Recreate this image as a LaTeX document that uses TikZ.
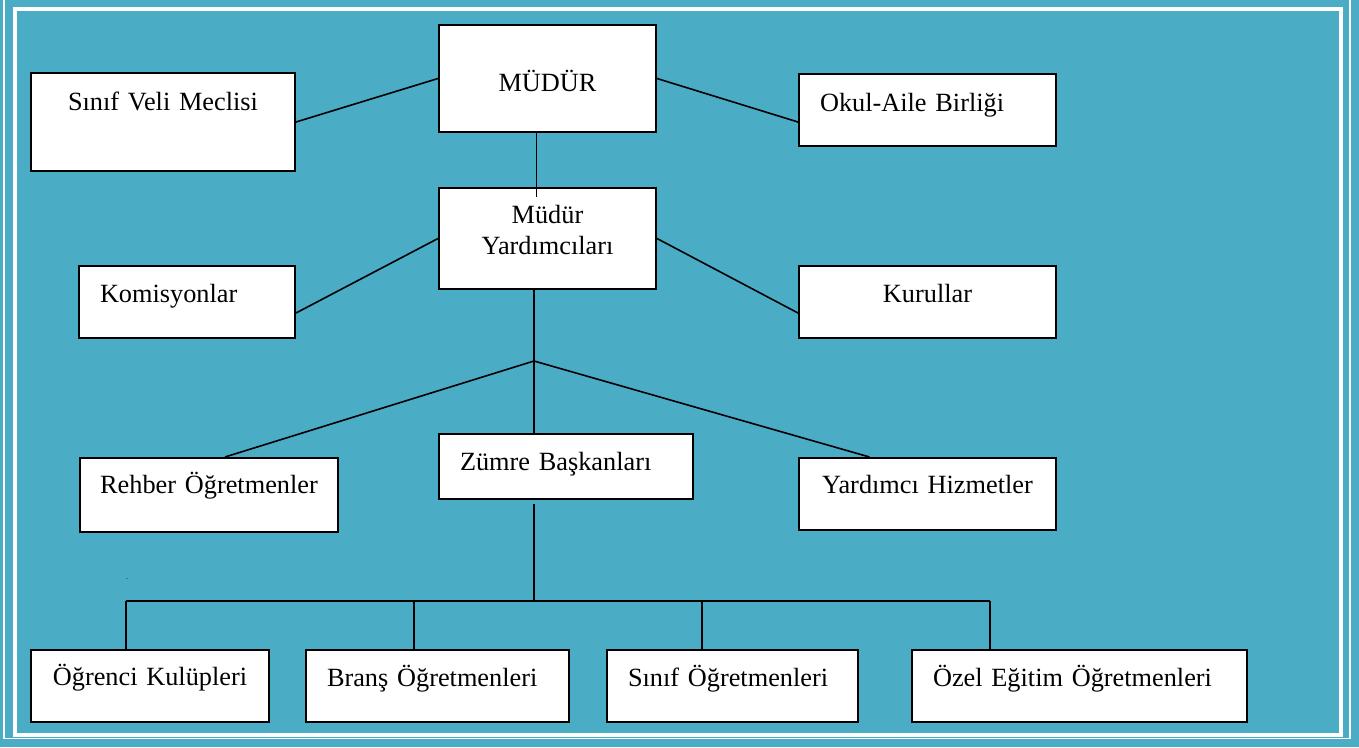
\documentclass[tikz,border=0pt]{standalone}
\usepackage{fontspec}
\setmainfont{Liberation Serif}
\definecolor{sea}{HTML}{4BACC6}
\newcommand\boxfont{\fontsize{26.3}{31}\selectfont}

\begin{document}
\begin{tikzpicture}[
    x=1pt, y=-1pt,
    unit/.style={draw=black, line width=2pt, fill=white, anchor=north west, inner ysep=0pt, font=\boxfont},
    mid/.style={unit, inner xsep=0pt, align=center},
    lft/.style={unit, inner xsep=21pt, align=left},
    link/.style={line width=1.6pt, black}
  ]
  \useasboundingbox (0,0) rectangle (1359,747);
  \fill[sea] (0,0) rectangle (1359,747);
  \draw[white, line width=4pt] (14.5,9) rectangle (1340.5,734.5);
  \draw[white, line width=1.5pt] (4,0) -- (4,738.5) -- (1350,738.5) -- (1350,0);

  % top level
  \node[mid, text width=264pt, text height=37pt, text depth=61pt] (veli) at (30,72) {Sınıf Veli Meclisi};
  \node[mid, text width=217pt, text height=66pt, text depth=41pt] (mudur) at (438,24) {MÜDÜR};
  \node[lft, text width=215pt, text height=37pt, text depth=35pt] (okul) at (798,73) {Okul-Aile Birliği};

  % second level
  \node[mid, text width=217pt, text height=35pt, text depth=66pt] (yard) at (438,187) {Müdür\\Yardımcıları};
  \node[lft, text width=174pt, text height=36pt, text depth=36pt] (komisyon) at (78,265) {Komisyonlar};
  \node[mid, text width=257pt, text height=36pt, text depth=36pt] (kurul) at (798,265) {Kurullar};

  % third level
  \node[mid, text width=258pt, text height=35pt, text depth=39pt] (rehber) at (79,457) {Rehber Öğretmenler};
  \node[lft, text width=212pt, text height=36pt, text depth=29pt] (zumre) at (438,433) {Zümre Başkanları};
  \node[mid, text width=257pt, text height=35pt, text depth=37pt] (hizmet) at (798,457) {Yardımcı Hizmetler};

  % bottom row
  \node[mid, text width=238pt, text height=35pt, text depth=37pt] (kulup) at (30,649) {Öğrenci Kulüpleri};
  \node[lft, text width=221pt, text height=36pt, text depth=36pt] (brans) at (305,649) {Branş Öğretmenleri};
  \node[lft, text width=209pt, text height=36pt, text depth=36pt] (sinif) at (606,649) {Sınıf Öğretmenleri};
  \node[lft, text width=293pt, text height=36pt, text depth=36pt] (ozel) at (911,649) {Özel Eğitim Öğretmenleri};

  \node[font=\fontsize{8}{8}\selectfont, inner sep=0pt, anchor=base] (dot) at (127,579) {.};

  \coordinate (fork) at (534,361);
  \coordinate (tap) at (534,504);
  \coordinate (d1) at (126,601);
  \coordinate (d2) at (414,601);
  \coordinate (d3) at (702,601);
  \coordinate (d4) at (990,601);

  \draw[link] (mudur.west) -- (veli.east);
  \draw[link] (mudur.east) -- ([yshift=-12pt]okul.west);
  \draw[link] ([xshift=-11pt]mudur.south) -- ([xshift=-11pt,yshift=-10pt]yard.north);
  \draw[link] (yard.west) -- ([yshift=-11pt]komisyon.east);
  \draw[link] (yard.east) -- ([yshift=-11pt]kurul.west);

  \draw[link] (fork |- yard.south) -- (fork) -- (fork |- zumre.north);
  \draw[link] (fork) -- ([xshift=16pt]rehber.north);
  \draw[link] (fork) -- ([xshift=-58pt]hizmet.north);

  \draw[link] (tap) -- (tap |- d1);
  \draw[link] (d1) -- (d4);
  \foreach \d/\n in {d1/kulup, d2/brans, d3/sinif, d4/ozel}
    \draw[link] (\d) -- (\d |- \n.north);

\end{tikzpicture}
\end{document}
